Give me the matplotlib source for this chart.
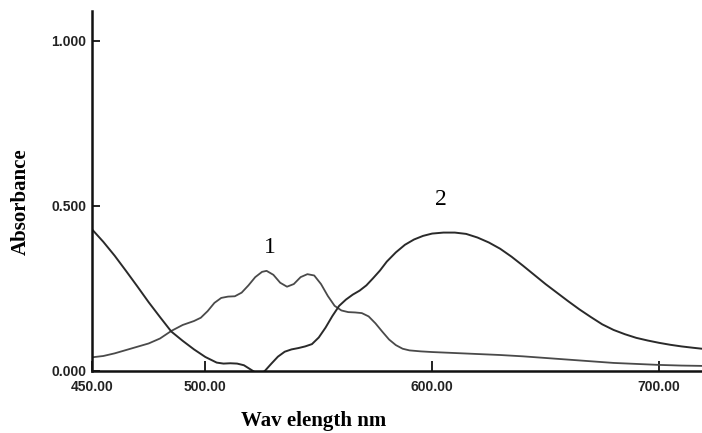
import matplotlib
matplotlib.use("Agg")
import matplotlib.pyplot as plt

# curve 1: multi-band spectrum
wl1 = [450, 455, 460, 465, 470, 475, 480, 485, 490, 495, 498, 501, 504, 507,
       510, 513, 516, 519, 522, 525, 527, 530, 533, 536, 539, 542, 545, 548,
       551, 554, 557, 560, 563, 566, 569, 572, 575, 578, 581, 584, 587, 590,
       595, 600, 610, 620, 630, 640, 650, 660, 670, 680, 690, 700, 710, 719]
abs1 = [0.040, 0.044, 0.052, 0.062, 0.072, 0.082, 0.097, 0.120, 0.138, 0.150,
        0.160, 0.180, 0.205, 0.220, 0.224, 0.225, 0.236, 0.258, 0.283, 0.299,
        0.302, 0.290, 0.266, 0.254, 0.262, 0.283, 0.292, 0.288, 0.262, 0.226,
        0.196, 0.182, 0.177, 0.176, 0.174, 0.164, 0.143, 0.118, 0.094, 0.077,
        0.066, 0.061, 0.058, 0.056, 0.053, 0.050, 0.047, 0.043, 0.038, 0.033,
        0.028, 0.023, 0.020, 0.017, 0.015, 0.014]

# curve 2: reagent tail + broad band near 605 nm
wl2 = [450, 455, 460, 465, 470, 475, 480, 485, 490, 495, 500, 505, 508, 511,
       514, 517, 520, 523, 526, 529, 532, 535, 538, 541, 544, 547, 550, 553,
       556, 559, 562, 565, 568, 571, 574, 577, 580, 584, 588, 592, 596, 600,
       605, 610, 615, 620, 625, 630, 635, 640, 645, 650, 655, 660, 665, 670,
       675, 680, 685, 690, 695, 700, 705, 710, 715, 719]
abs2 = [0.428, 0.390, 0.348, 0.302, 0.255, 0.207, 0.162, 0.118, 0.090, 0.064,
        0.041, 0.024, 0.021, 0.022, 0.021, 0.016, 0.003, -0.010, -0.003, 0.020,
        0.042, 0.057, 0.064, 0.068, 0.073, 0.080, 0.100, 0.130, 0.165, 0.196,
        0.215, 0.230, 0.242, 0.258, 0.280, 0.303, 0.330, 0.358, 0.381, 0.397,
        0.408, 0.415, 0.418, 0.418, 0.414, 0.403, 0.388, 0.369, 0.345, 0.318,
        0.290, 0.262, 0.236, 0.210, 0.185, 0.162, 0.140, 0.123, 0.110, 0.099,
        0.091, 0.084, 0.078, 0.073, 0.069, 0.066]

xticks = [450, 500, 600, 700]
xticklabels = ["450.00", "500.00", "600.00", "700.00"]
yticks = [0.0, 0.5, 1.0]
yticklabels = ["0.000", "0.500", "1.000"]

fig = plt.figure(figsize=(7.02, 4.33), dpi=100)
ax = fig.add_axes([0.131, 0.1443, 0.869, 0.8307])

ax.plot(wl1, abs1, color="#4a4a4a", lw=1.3)
ax.plot(wl2, abs2, color="#2a2a2a", lw=1.4)

ax.set_xlim(450, 719)
ax.set_ylim(0, 1.09)

for s in ["top", "right"]:
    ax.spines[s].set_visible(False)
for s in ["left", "bottom"]:
    ax.spines[s].set_linewidth(1.8)
    ax.spines[s].set_color("#111111")

ax.set_xticks(xticks)
ax.set_xticklabels(xticklabels)
ax.set_yticks(yticks)
ax.set_yticklabels(yticklabels)
ax.tick_params(axis="both", direction="in", width=1.3, color="#111111")
ax.tick_params(axis="x", length=7, pad=7)
ax.tick_params(axis="y", length=6, pad=4)
for t in ax.get_xticklabels() + ax.get_yticklabels():
    t.set_family("Liberation Sans")
    t.set_fontweight("bold")
    t.set_fontsize(10)
    t.set_color("#222222")

ax.set_xlabel("Wav elength nm", family="Liberation Serif", fontweight="bold",
              fontsize=15, va="center")
ax.xaxis.set_label_coords(0.364, -0.14)
ax.set_ylabel("Absorbance", family="Liberation Serif", fontweight="bold",
              fontsize=15, va="center")
ax.yaxis.set_label_coords(-0.117, 0.47)

ax.text(528.5, 0.374, "1", family="Liberation Serif", fontsize=17,
        ha="center", va="center")
ax.text(604, 0.517, "2", family="Liberation Serif", fontsize=17,
        ha="center", va="center")

fig.savefig("out.png", dpi=100)
